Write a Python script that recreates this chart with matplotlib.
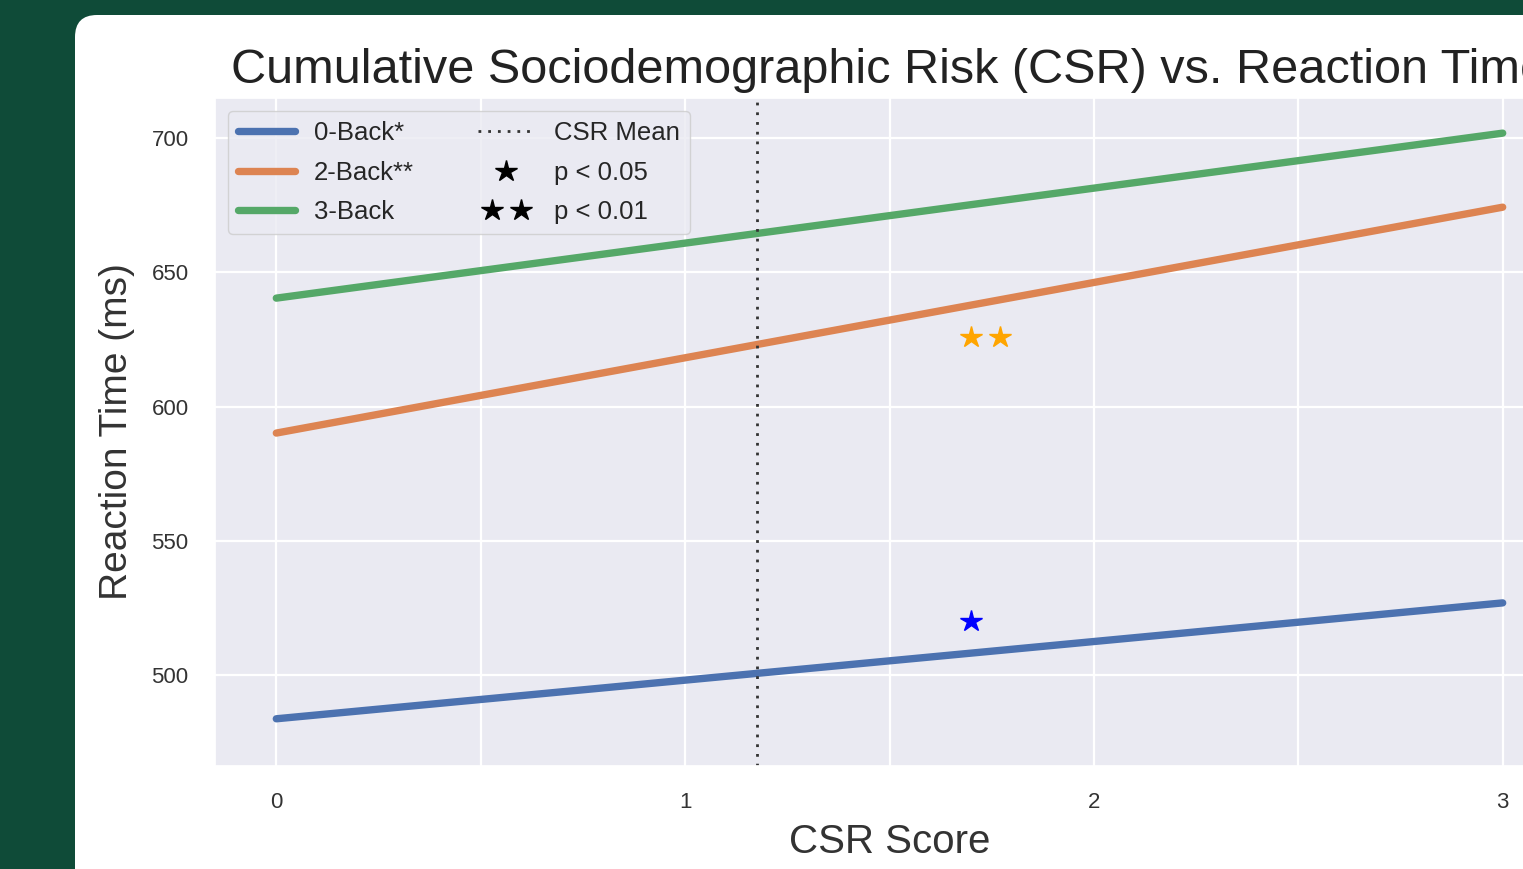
import numpy as np
import matplotlib
matplotlib.use('Agg')
import matplotlib.pyplot as plt
import seaborn as sns
from matplotlib.lines import Line2D
from matplotlib.legend_handler import HandlerLine2D
from matplotlib.patches import FancyBboxPatch
from matplotlib.transforms import IdentityTransform

# fitted reaction time at CSR = 0 and CSR = 3
csr = [0, 3]
rt_0back = [483.6, 526.8]
rt_2back = [590.1, 674.3]
rt_3back = [640.4, 701.9]
csr_mean = 1.175

# significance stars
star1_x = [1.70]
star1_y = [520.0]
star2_x = [1.70, 1.77]
star2_y = [626.0, 626.0]

sns.set_theme(style='darkgrid')
plt.rcParams['font.family'] = ['Liberation Sans', 'DejaVu Sans']

W, H = 1523, 869
fig = plt.figure(figsize=(W / 100, H / 100), dpi=100)
fig.patch.set_facecolor('#0f4b38')

# white notebook card behind the plot
card = FancyBboxPatch((75, -40), 1600, H - 15 + 40,
                      boxstyle='round,pad=0,rounding_size=22',
                      transform=IdentityTransform(),
                      facecolor='white', edgecolor='none', zorder=-5)
fig.add_artist(card)

ax = fig.add_axes([215 / W, (H - 766) / H, (1564 - 215) / W, (766 - 98) / H])

l0, = ax.plot(csr, rt_0back, color='#4c72b0', lw=5.3, solid_capstyle='round')
l2, = ax.plot(csr, rt_2back, color='#dd8452', lw=5.3, solid_capstyle='round')
l3, = ax.plot(csr, rt_3back, color='#55a868', lw=5.3, solid_capstyle='round')
mean_line = ax.axvline(csr_mean, color='#333333', lw=2, ls=(0, (1, 2.5)))

ax.plot(star1_x, star1_y, ls='none', marker='*', ms=16, color='blue')
ax.plot(star2_x, star2_y, ls='none', marker='*', ms=16, color='orange')

s1 = Line2D([], [], ls='none', marker='*', ms=16, color='black')
s2 = Line2D([], [], ls='none', marker='*', ms=16, color='black')
mh = Line2D([], [], color='#333333', lw=2, ls=(0, (1, 2.5)))

ax.legend([l0, l2, l3, mh, s1, s2],
          ['0-Back*', '2-Back**', '3-Back', 'CSR Mean', 'p < 0.05', 'p < 0.01'],
          ncol=2, loc='upper left', fontsize=18.5, handlelength=2.2,
          labelspacing=0.6, columnspacing=2.5, handletextpad=0.75,
          handler_map={s1: HandlerLine2D(numpoints=1),
                       s2: HandlerLine2D(numpoints=2, marker_pad=0.55)})

ax.set_xlim(-0.15, 3.15)
ax.set_ylim(466, 715)
ax.set_xticks([0, 1, 2, 3])
ax.set_xticks([0.5, 1.5, 2.5], minor=True)
ax.set_yticks([500, 550, 600, 650, 700])
ax.grid(which='both', color='white', lw=1.6)
ax.tick_params(which='both', length=0, labelsize=16, pad=19, labelcolor='#333333')

ax.set_xlabel('CSR Score', fontsize=29, labelpad=7, color='#333333')
ax.set_ylabel('Reaction Time (ms)', fontsize=28, labelpad=12, color='#333333')
ax.set_title('Cumulative Sociodemographic Risk (CSR) vs. Reaction Time',
             fontsize=35, pad=11, color='#222222')

fig.savefig('out.png', dpi=100, facecolor=fig.get_facecolor())
